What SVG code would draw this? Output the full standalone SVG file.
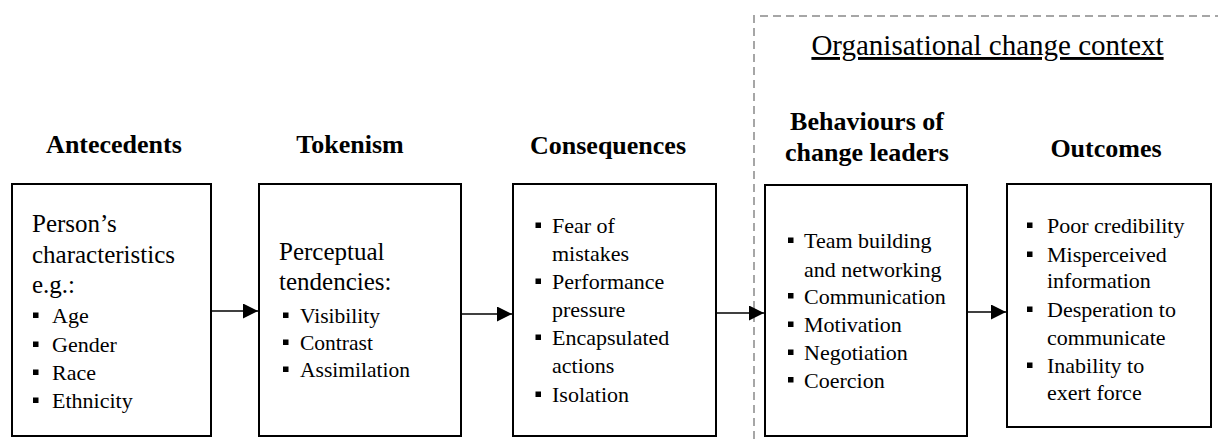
<svg xmlns="http://www.w3.org/2000/svg" width="1218" height="439" viewBox="0 0 1218 439">
<style>
.box{fill:#fff;stroke:#000;stroke-width:2}
.ttl{font-family:"Liberation Serif","Times New Roman",serif;font-weight:bold;font-size:26px;fill:#000;text-anchor:middle}
.lead{font-family:"Liberation Serif","Times New Roman",serif;font-size:25px;fill:#000}
.it{font-family:"Liberation Serif","Times New Roman",serif;font-size:22px;fill:#000}
.it2{font-family:"Liberation Serif","Times New Roman",serif;font-size:21.5px;fill:#000}
.ctx{font-family:"Liberation Serif","Times New Roman",serif;font-size:29px;fill:#000;text-anchor:middle;text-decoration:underline}
.b{fill:#000}
.conn{stroke:#000;stroke-width:1.5;fill:none}
.dash{stroke:#a6a6a6;stroke-width:2;stroke-dasharray:8 5;fill:none}
</style>
<defs>
<marker id="ah" viewBox="0 0 15 15" refX="15" refY="7.5" markerWidth="15" markerHeight="15" markerUnits="userSpaceOnUse" orient="auto">
<path d="M0,0 L15,7.5 L0,15 Z" fill="#000"/>
</marker>
</defs>

<g id="context">
<path class="dash" d="M754,439 V16 H1218"/>
<text class="ctx" x="987.5" y="55">Organisational change context</text>
</g>

<g id="antecedents">
<text class="ttl" x="114" y="153">Antecedents</text>
<rect class="box" x="12" y="184" width="199" height="252"/>
<text class="lead" x="32" y="232">Person’s</text>
<text class="lead" x="32" y="263">characteristics</text>
<text class="lead" x="32" y="293">e.g.:</text>
<rect class="b" x="33" y="312.5" width="5.5" height="5.5"/><text class="it" x="52" y="323">Age</text>
<rect class="b" x="33" y="341.5" width="5.5" height="5.5"/><text class="it" x="52" y="352">Gender</text>
<rect class="b" x="33" y="369.5" width="5.5" height="5.5"/><text class="it" x="52" y="380">Race</text>
<rect class="b" x="33" y="397.5" width="5.5" height="5.5"/><text class="it" x="52" y="408">Ethnicity</text>
</g>

<g id="tokenism">
<text class="ttl" x="350" y="153">Tokenism</text>
<rect class="box" x="259" y="184" width="202" height="252"/>
<text class="lead" x="279" y="260">Perceptual</text>
<text class="lead" x="279" y="290">tendencies:</text>
<rect class="b" x="283" y="312.5" width="5.5" height="5.5"/><text class="it2" x="300" y="323">Visibility</text>
<rect class="b" x="283" y="339.5" width="5.5" height="5.5"/><text class="it2" x="300" y="350">Contrast</text>
<rect class="b" x="283" y="366.5" width="5.5" height="5.5"/><text class="it2" x="300" y="377">Assimilation</text>
</g>

<g id="consequences">
<text class="ttl" x="608" y="154">Consequences</text>
<rect class="box" x="513" y="184" width="203" height="252"/>
<rect class="b" x="535.5" y="222.5" width="5.5" height="5.5"/><text class="it" x="552" y="233">Fear of</text>
<text class="it" x="552" y="261">mistakes</text>
<rect class="b" x="535.5" y="278.5" width="5.5" height="5.5"/><text class="it" x="552" y="289">Performance</text>
<text class="it" x="552" y="317">pressure</text>
<rect class="b" x="535.5" y="334.5" width="5.5" height="5.5"/><text class="it" x="552" y="345">Encapsulated</text>
<text class="it" x="552" y="373">actions</text>
<rect class="b" x="535.5" y="391.5" width="5.5" height="5.5"/><text class="it" x="552" y="402">Isolation</text>
</g>

<g id="behaviours">
<text class="ttl" x="867" y="130">Behaviours of</text>
<text class="ttl" x="867" y="161">change leaders</text>
<rect class="box" x="765" y="185" width="202" height="251"/>
<rect class="b" x="788" y="237.5" width="5.5" height="5.5"/><text class="it" x="804" y="248">Team building</text>
<text class="it" x="804" y="277">and networking</text>
<rect class="b" x="788" y="293" width="5.5" height="5.5"/><text class="it" x="804" y="303.5">Communication</text>
<rect class="b" x="788" y="321.5" width="5.5" height="5.5"/><text class="it" x="804" y="332">Motivation</text>
<rect class="b" x="788" y="349.5" width="5.5" height="5.5"/><text class="it" x="804" y="360">Negotiation</text>
<rect class="b" x="788" y="377" width="5.5" height="5.5"/><text class="it" x="804" y="387.5">Coercion</text>
</g>

<g id="outcomes">
<text class="ttl" x="1106" y="157">Outcomes</text>
<rect class="box" x="1007" y="184" width="204" height="243"/>
<rect class="b" x="1027" y="222.5" width="5.5" height="5.5"/><text class="it" x="1047" y="233">Poor credibility</text>
<rect class="b" x="1027" y="251.5" width="5.5" height="5.5"/><text class="it" x="1047" y="262">Misperceived</text>
<text class="it" x="1047" y="288">information</text>
<rect class="b" x="1027" y="306.5" width="5.5" height="5.5"/><text class="it" x="1047" y="317">Desperation to</text>
<text class="it" x="1047" y="345">communicate</text>
<rect class="b" x="1027" y="362.5" width="5.5" height="5.5"/><text class="it" x="1047" y="373">Inability to</text>
<text class="it" x="1047" y="400">exert force</text>
</g>

<g id="connectors">
<line class="conn" x1="212" y1="311" x2="258" y2="311" marker-end="url(#ah)"/>
<line class="conn" x1="462" y1="314" x2="512" y2="314" marker-end="url(#ah)"/>
<line class="conn" x1="717" y1="313" x2="764" y2="313" marker-end="url(#ah)"/>
<line class="conn" x1="968" y1="312" x2="1006" y2="312" marker-end="url(#ah)"/>
</g>
</svg>
